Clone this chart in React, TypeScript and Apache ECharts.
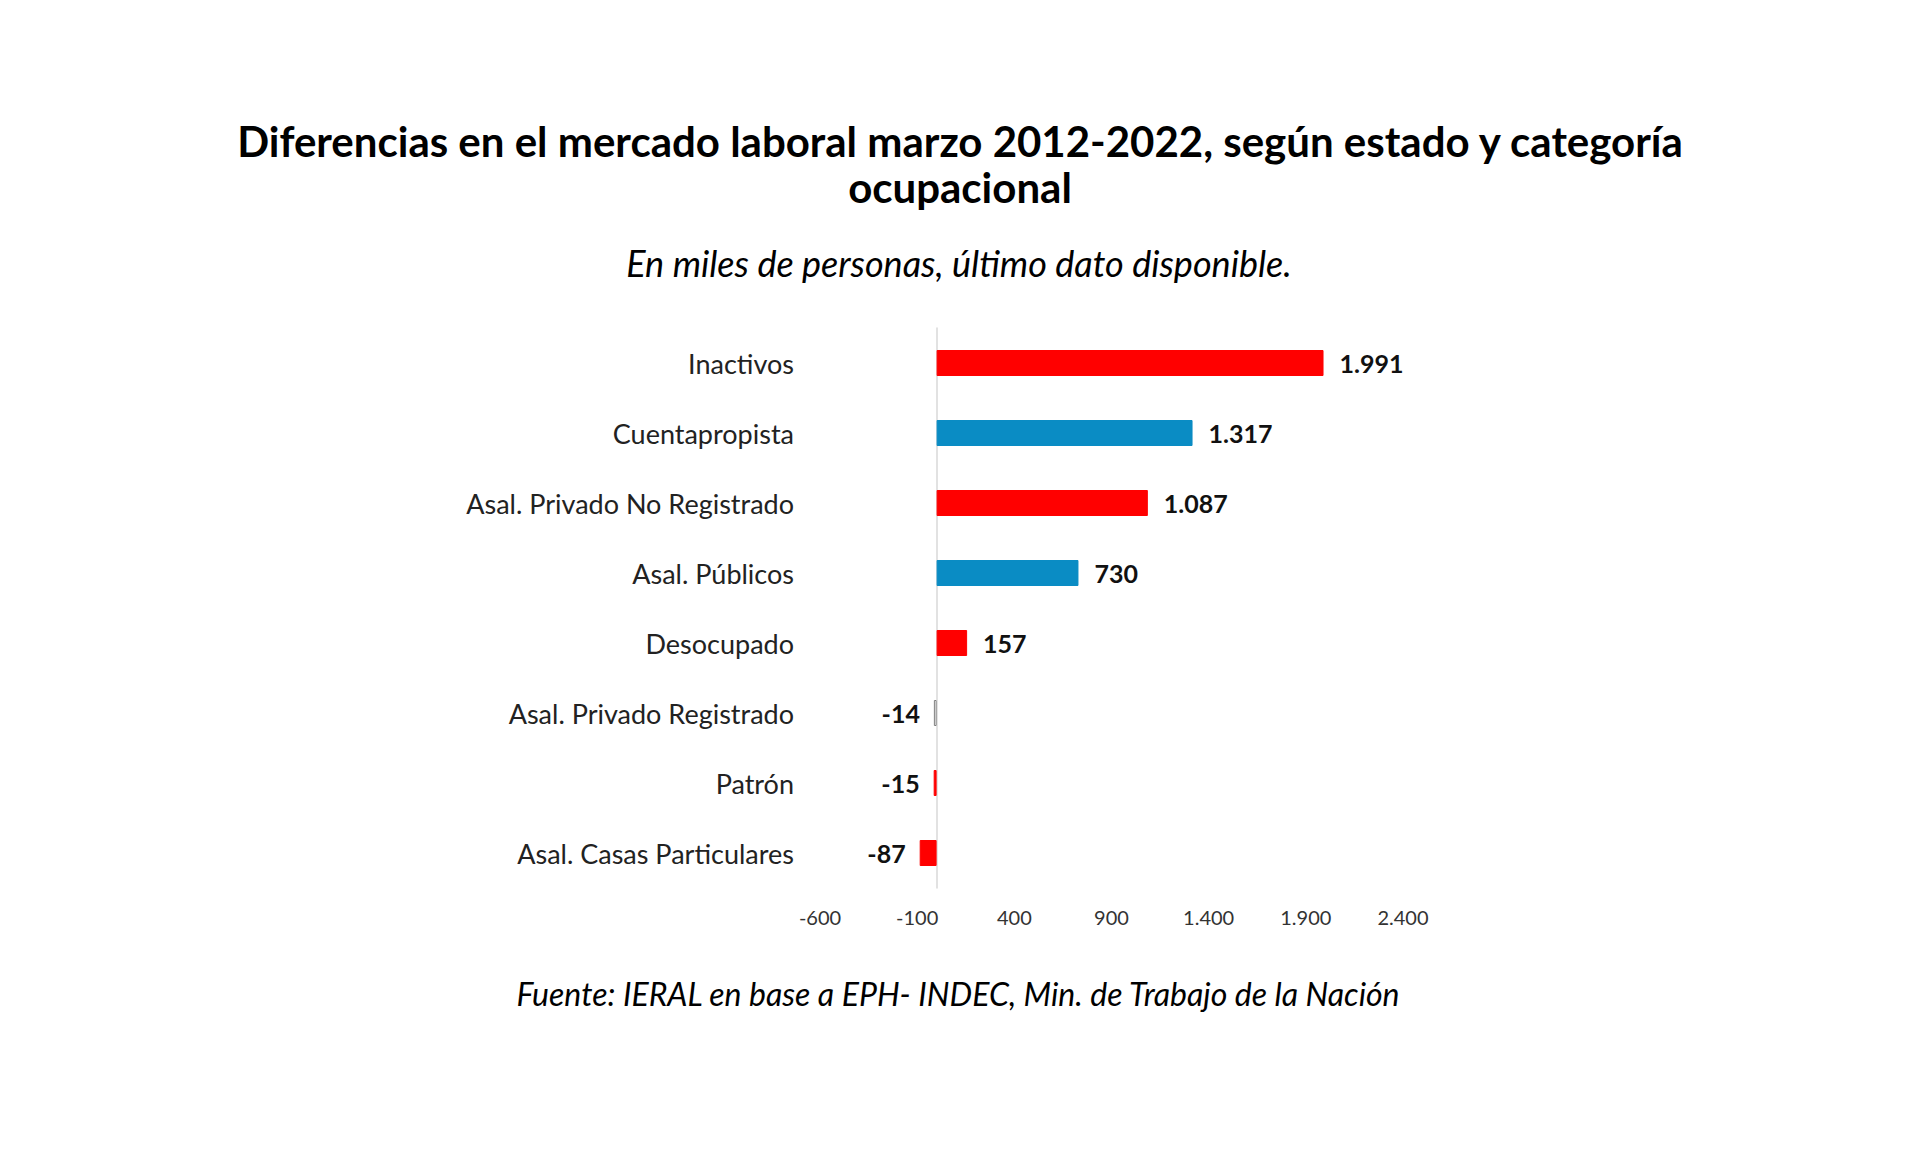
import React, { useEffect, useRef } from "react";
import * as echarts from "echarts";

const titleLine1 = "Diferencias en el mercado laboral marzo 2012-2022, según estado y categoría";
const titleLine2 = "ocupacional";
const subtitle = "En miles de personas, último dato disponible.";
const source = "Fuente: IERAL en base a EPH- INDEC, Min. de Trabajo de la Nación";

const categories = [
  "Inactivos",
  "Cuentapropista",
  "Asal. Privado No Registrado",
  "Asal. Públicos",
  "Desocupado",
  "Asal. Privado Registrado",
  "Patrón",
  "Asal. Casas Particulares",
];
const values = [1991, 1317, 1087, 730, 157, -14, -15, -87];
const barColors = ["#FF0000", "#0A8CC4", "#FF0000", "#0A8CC4", "#FF0000", "#FFFFFF", "#FF0000", "#FF0000"];
const barBorders = ["#FF0000", "#0A8CC4", "#FF0000", "#0A8CC4", "#FF0000", "#7F7F7F", "#FF0000", "#FF0000"];
const xTicks = [-600, -100, 400, 900, 1400, 1900, 2400];

const fmt = (v: number) => {
  const s = Math.abs(v).toString().replace(/\B(?=(\d{3})+(?!\d))/g, ".");
  return (v < 0 ? "-" : "") + s;
};

const FONT = "Lato";

export default function App() {
  const ref = useRef<HTMLDivElement>(null);
  useEffect(() => {
    if (!ref.current) return;
    const chart = echarts.init(ref.current, null, { renderer: "svg" });
    chart.setOption({
      animation: false,
      backgroundColor: "#FFFFFF",
      title: [
        {
          text: titleLine1 + "\n" + titleLine2,
          left: 955,
          top: 113,
          textAlign: "center",
          textStyle: { fontFamily: FONT, fontWeight: "bold", fontSize: 42, color: "#000", lineHeight: 46 },
        },
        {
          text: subtitle,
          left: 954,
          top: 240,
          textAlign: "center",
          textStyle: { fontFamily: FONT, fontStyle: "italic", fontWeight: "normal", fontSize: 36, color: "#000" },
        },
        {
          text: source,
          left: 953,
          top: 972,
          textAlign: "center",
          textStyle: { fontFamily: FONT, fontStyle: "italic", fontWeight: "normal", fontSize: 32, color: "#000" },
        },
      ],
      grid: { left: 820, right: 517, top: 328, bottom: 264, containLabel: false },
      xAxis: {
        type: "value",
        min: -600,
        max: 2400,
        axisLine: { show: false },
        axisTick: { show: false },
        splitLine: { show: false },
        axisLabel: {
          customValues: xTicks,
          formatter: (v: number) => fmt(v),
          fontFamily: FONT,
          fontSize: 20,
          color: "#333",
          margin: 19,
        },
      },
      yAxis: {
        type: "category",
        data: categories,
        inverse: true,
        axisLine: { show: true, onZero: true, lineStyle: { color: "#D9D9D9", width: 1.5 } },
        axisTick: { show: false },
        axisLabel: { fontFamily: FONT, fontSize: 27, color: "#222", margin: 26 },
      },
      series: [
        {
          type: "bar",
          barWidth: 26,
          data: values.map((v, i) => ({
            value: v,
            itemStyle: { color: barColors[i], borderColor: barBorders[i], borderWidth: 1 },
            label: {
              show: true,
              position: v < 0 ? "left" : "right",
              distance: v < 0 ? 14 : 16,
              formatter: () => fmt(v),
              fontFamily: FONT,
              fontWeight: "bold",
              fontSize: 25,
              color: "#111",
            },
          })),
        },
      ],
    });
    return () => chart.dispose();
  }, []);
  return (
    <div
      ref={ref}
      style={{ position: "fixed", left: 0, top: 0, width: "1920px", height: "1152px", background: "#fff" }}
    />
  );
}
